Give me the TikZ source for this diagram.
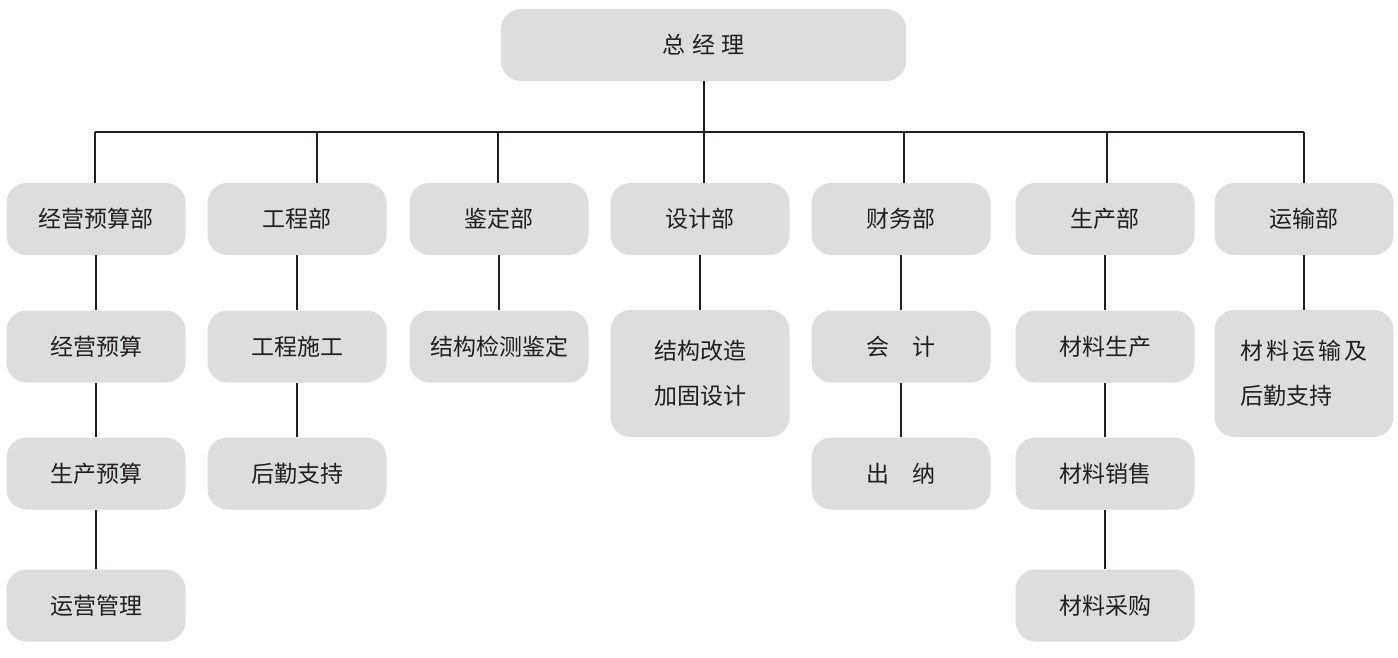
\documentclass[tikz,border=0pt]{standalone}
\usepackage{fontspec}
\setmainfont{Noto Sans CJK SC}
\definecolor{boxgray}{HTML}{DCDDDF}
\definecolor{inkgray}{HTML}{231F20}

\begin{document}
\begin{tikzpicture}[x=1pt, y=-1pt,
  unit/.style={fill=boxgray, rounded corners=20pt, minimum width=179pt,
    minimum height=72pt, inner sep=0pt, text=inkgray,
    font=\fontsize{23}{45}\selectfont, align=center},
  tall/.style={unit, minimum height=127pt},
  link/.style={draw=inkgray, line width=2pt}]
  \useasboundingbox (0,0) rectangle (1398,658);

  \node[unit, minimum width=405pt] (gm) at (703.5,45) {总\hspace{0.3em}经\hspace{0.3em}理};

  % departments
  \node[unit] (jyb) at (96,219)   {经营预算部};
  \node[unit] (gcb) at (297,219)  {工程部};
  \node[unit] (jdb) at (499,219)  {鉴定部};
  \node[unit] (sjb) at (700,219)  {设计部};
  \node[unit] (cwb) at (901,219)  {财务部};
  \node[unit] (scb) at (1105,219) {生产部};
  \node[unit] (ysb) at (1304,219) {运输部};

  % sections
  \node[unit] (jyys) at (96,346.5)  {经营预算};
  \node[unit] (scys) at (96,473.5)  {生产预算};
  \node[unit] (yygl) at (96,605.5)  {运营管理};
  \node[unit] (gcsg) at (297,346.5) {工程施工};
  \node[unit] (hqzc) at (297,473.5) {后勤支持};
  \node[unit] (jgjd) at (499,346.5) {结构检测鉴定};
  \node[tall] (jggz) at (700,373.5) {结构改造\\加固设计};
  \node[unit] (kj)   at (901,346.5) {会\hspace{1em}计};
  \node[unit] (cn)   at (901,473.5) {出\hspace{1em}纳};
  \node[unit] (clsc) at (1105,346.5) {材料生产};
  \node[unit] (clxs) at (1105,473.5) {材料销售};
  \node[unit] (clcg) at (1105,605.5) {材料采购};
  \node[tall, align=left] (clys) at (1304,373.5)
    {材\hspace{.12em}料\hspace{.12em}运\hspace{.12em}输\hspace{.12em}及\\后勤支持};

  % bus
  \coordinate (t1) at (95,132);
  \coordinate (t2) at (317,132);
  \coordinate (t3) at (498,132);
  \coordinate (t4) at (703.5,132);
  \coordinate (t5) at (904,132);
  \coordinate (t6) at (1107,132);
  \coordinate (t7) at (1304,132);

  \draw[link] (gm.south) -- (t4);
  \draw[link] (t1) -- (t7);
  \draw[link] (t1) -- (t1 |- jyb.north);
  \draw[link] (t2) -- (t2 |- gcb.north);
  \draw[link] (t3) -- (t3 |- jdb.north);
  \draw[link] (t4) -- (t4 |- sjb.north);
  \draw[link] (t5) -- (t5 |- cwb.north);
  \draw[link] (t6) -- (t6 |- scb.north);
  \draw[link] (t7) -- (t7 |- ysb.north);

  \draw[link] (jyb) -- (jyys);
  \draw[link] (jyys) -- (scys);
  \draw[link] (scys) -- (yygl);
  \draw[link] (gcb) -- (gcsg);
  \draw[link] (gcsg) -- (hqzc);
  \draw[link] (jdb) -- (jgjd);
  \draw[link] (sjb) -- (jggz);
  \draw[link] (cwb) -- (kj);
  \draw[link] (kj) -- (cn);
  \draw[link] (scb) -- (clsc);
  \draw[link] (clsc) -- (clxs);
  \draw[link] (clxs) -- (clcg);
  \draw[link] (ysb) -- (clys);
\end{tikzpicture}
\end{document}
